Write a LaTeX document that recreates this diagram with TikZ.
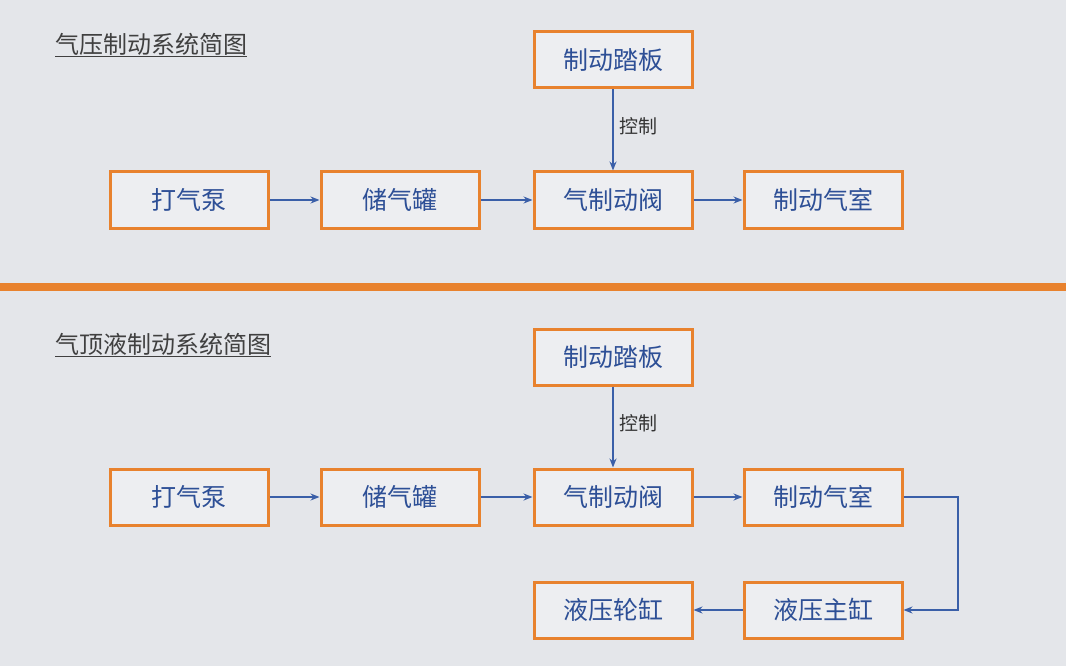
\documentclass[tikz,border=0pt]{standalone}
\usepackage{fontspec}
\setmainfont{Noto Sans CJK SC}
\usetikzlibrary{arrows.meta}
\definecolor{bg}{HTML}{E4E6EA}
\definecolor{boxfill}{HTML}{EDEEF1}
\definecolor{org}{HTML}{E8822E}
\definecolor{txt}{HTML}{2D4F96}
\definecolor{arr}{HTML}{3A5FA8}
\tikzset{
 box/.style={draw=org,line width=3pt,fill=boxfill,minimum width=158pt,minimum height=56pt,text=txt,font=\fontsize{25}{25}\selectfont,inner sep=0pt},
 conn/.style={draw=arr,line width=1.6pt,-{Stealth[length=9pt,width=7pt]}},
 ttl/.style={anchor=west,font=\fontsize{24}{24}\selectfont\itshape,text=black!75,inner sep=0pt},
 lbl/.style={font=\fontsize{19}{19}\selectfont,text=black!80,anchor=west}
}
\begin{document}
\begin{tikzpicture}[x=1pt,y=-1pt]
\fill[bg] (0,0) rectangle (1066,666);
\useasboundingbox (0,0) rectangle (1066,666);
\fill[org] (0,283) rectangle (1066,291);
% top
\node[ttl] (t1) at (55,45) {\underline{气压制动系统简图}};
\node[box] (a1) at (189,200) {打气泵};
\node[box] (b1) at (400,200) {储气罐};
\node[box] (c1) at (613,200) {气制动阀};
\node[box] (d1) at (823,200) {制动气室};
\node[box] (p1) at (613,60) {制动踏板};
\draw[conn] (a1) -- (b1);
\draw[conn] (b1) -- (c1);
\draw[conn] (c1) -- (d1);
\draw[conn] (p1) -- node[lbl,pos=0.45,xshift=2pt]{控制} (c1);
% bottom
\node[ttl] (t2) at (55,345) {\underline{气顶液制动系统简图}};
\node[box] (a2) at (189,497) {打气泵};
\node[box] (b2) at (400,497) {储气罐};
\node[box] (c2) at (613,497) {气制动阀};
\node[box] (d2) at (823,497) {制动气室};
\node[box] (p2) at (613,357) {制动踏板};
\node[box] (e2) at (823,610) {液压主缸};
\node[box] (f2) at (613,610) {液压轮缸};
\coordinate (r1) at (958,497);
\coordinate (r2) at (958,610);
\draw[conn] (a2) -- (b2);
\draw[conn] (b2) -- (c2);
\draw[conn] (c2) -- (d2);
\draw[conn] (p2) -- node[lbl,pos=0.45,xshift=2pt]{控制} (c2);
\draw[conn] (d2.east) -- (r1) -- (r2) -- (e2.east);
\draw[conn] (e2) -- (f2);
\end{tikzpicture}
\end{document}
